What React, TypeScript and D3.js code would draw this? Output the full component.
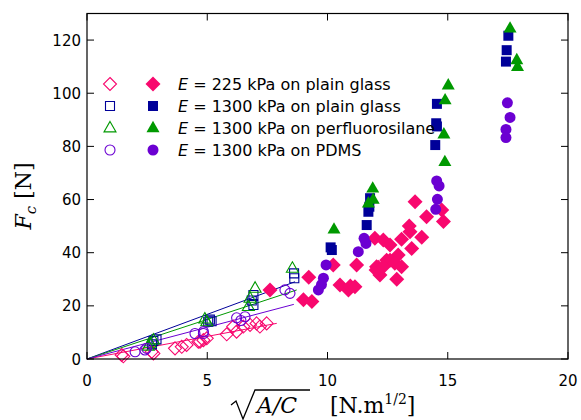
import React from "react";
import * as d3 from "d3";

// ---- data ----
const xTicks = [0, 5, 10, 15, 20];
const yTicks = [0, 20, 40, 60, 80, 100, 120];

const pinkOpen: [number, number][] = [
  [1.44, 1.5], [1.51, 1.0], [2.69, 2.7], [2.76, 2.1], [3.66, 4.0], [3.94, 4.6], [4.14, 5.3],
  [4.63, 6.5], [4.84, 7.1], [4.98, 7.8], [4.7, 6.5], [5.81, 9.3], [6.08, 12.2], [6.22, 10.3],
  [6.5, 12.2], [6.78, 12.8], [7.05, 13.4], [7.19, 12.2], [7.47, 13.4],
];
const pinkFilled: [number, number][] = [
  [7.61, 26], [9.0, 22.3], [9.35, 21.6], [9.22, 30.8], [10.24, 35.4], [10.52, 27.8], [10.87, 26],
  [10.95, 27.5], [11.14, 27.2], [11.21, 35.4], [11.97, 45.4], [12.32, 44.8], [12.04, 34.7],
  [12.18, 31.6], [12.02, 33.5], [12.11, 34.5], [12.46, 37.2], [12.6, 42.9], [13.08, 45.1],
  [13.92, 45.8], [13.5, 41.6], [12.94, 39.1], [12.6, 37.2], [12.8, 36], [12.32, 34.7],
  [13.08, 34.7], [12.88, 30], [13.4, 50], [13.43, 47.9], [13.64, 59.2], [14.12, 53.5],
  [14.75, 56.1], [14.82, 51.7],
];
const blueOpen: [number, number][] = [
  [2.76, 6.8], [2.89, 7.4], [2.7, 5.5], [5.04, 14], [5.18, 14.2], [5.11, 14.8], [6.92, 24.1],
  [6.92, 20.3], [6.85, 22], [8.61, 32.2], [8.62, 30.4],
];
const blueFilled: [number, number][] = [
  [10.13, 42], [10.18, 41], [11.63, 50.4], [11.7, 55.4], [11.74, 57.3], [11.77, 60.5],
  [14.55, 96], [14.52, 88.7], [14.55, 87.5], [14.48, 80.5], [17.52, 121.6], [17.45, 116.2],
  [17.42, 111.9],
];
const greenOpen: [number, number][] = [
  [2.62, 5.9], [2.76, 7.1], [2.55, 4.8], [4.98, 14], [4.9, 15], [6.99, 26.6], [6.78, 22.8],
  [6.71, 19.7], [8.54, 34.1],
];
const greenFilled: [number, number][] = [
  [10.27, 48.8], [11.88, 64.2], [11.9, 60], [11.7, 58.6], [14.88, 74.2], [14.84, 84.6],
  [14.89, 97.4], [15.02, 103], [17.59, 124.4], [17.87, 112.5], [17.9, 110],
];
const purpleOpen: [number, number][] = [
  [2.0, 2.7], [2.41, 3.4], [2.48, 4], [4.49, 9.6], [4.84, 10.3], [4.84, 9.6], [6.22, 15.5],
  [6.57, 15.9], [6.4, 14.5], [8.23, 26], [8.44, 24.7],
];
const purpleFilled: [number, number][] = [
  [9.62, 26], [9.75, 28], [9.83, 30.4], [9.94, 35.4], [11.28, 40.4], [11.52, 45.4], [11.6, 43.5],
  [14.5, 56.3], [14.57, 60.1], [14.54, 67], [14.64, 65.1], [17.48, 96.4], [17.59, 90.9],
  [17.42, 86.4], [17.42, 83.3],
];

// linear fits through the origin: slope and end x
const fitSlopes = [1.7, 3.36, 2.98, 2.39];
const fitEnds = [7.89, 8.65, 8.72, 8.6];

const legendLabels = [
  "225 kPa on plain glass",
  "1300 kPa on plain glass",
  "1300 kPa on perfluorosilane",
  "1300 kPa on PDMS",
];

const COLORS = ["#f8086e", "#000099", "#009900", "#6b00d2"];
const SHAPES = ["diamond", "square", "triangle", "circle"];

function markerPath(shape: string, x: number, y: number, filled: boolean): string {
  const p = d3.path();
  if (shape === "diamond") {
    const r = filled ? 7.5 : 6.5;
    p.moveTo(x, y - r); p.lineTo(x + r, y); p.lineTo(x, y + r); p.lineTo(x - r, y); p.closePath();
  } else if (shape === "square") {
    const h = filled ? 5 : 4.5;
    p.rect(x - h, y - h, 2 * h, 2 * h);
  } else if (shape === "triangle") {
    const s = filled ? 6.5 : 6;
    p.moveTo(x, y - s * 1.1); p.lineTo(x + s, y + s * 0.65); p.lineTo(x - s, y + s * 0.65); p.closePath();
  } else {
    const r = filled ? 5.5 : 5;
    p.moveTo(x + r, y); p.arc(x, y, r, 0, Math.PI * 2);
  }
  return p.toString();
}

export default function App() {
  const W = 581, H = 420;
  const left = 87, right = 568, top = 13.5, bottom = 359;
  const x = d3.scaleLinear().domain([0, 20]).range([left, right]);
  const y = d3.scaleLinear().domain([0, 130]).range([bottom, top]);

  const openSets = [pinkOpen, blueOpen, greenOpen, purpleOpen];
  const filledSets = [pinkFilled, blueFilled, greenFilled, purpleFilled];
  const font = "'DejaVu Sans', Verdana, sans-serif";
  const serif = "'DejaVu Serif', 'Liberation Serif', serif";

  return (
    <svg width={W} height={H} style={{ position: "absolute", left: 0, top: 0, background: "#fff" }}>
      <rect x={0} y={0} width={W} height={H} fill="#fff" />
      {/* fit lines */}
      {fitSlopes.map((s, i) => {
        const line = d3.line<number>().x((v) => x(v)).y((v) => y(v * s));
        return <path key={"f" + i} d={line([0, fitEnds[i]]) || ""} stroke={COLORS[i]} strokeWidth={1} fill="none" />;
      })}
      {/* open markers */}
      {openSets.map((set, i) =>
        set.map((d, j) => (
          <path key={`o${i}-${j}`} d={markerPath(SHAPES[i], x(d[0]), y(d[1]), false)} fill="none" stroke={COLORS[i]} strokeWidth={1.1} />
        ))
      )}
      {/* filled markers */}
      {filledSets.map((set, i) =>
        set.map((d, j) => (
          <path key={`c${i}-${j}`} d={markerPath(SHAPES[i], x(d[0]), y(d[1]), true)} fill={COLORS[i]} stroke="none" />
        ))
      )}
      {/* frame */}
      <rect x={left} y={top} width={right - left} height={bottom - top} fill="none" stroke="#000" strokeWidth={1.2} />
      {/* x ticks */}
      {xTicks.map((t) => (
        <g key={"xt" + t}>
          <line x1={x(t)} x2={x(t)} y1={bottom} y2={bottom - 7} stroke="#000" strokeWidth={1} />
          <line x1={x(t)} x2={x(t)} y1={top} y2={top + 7} stroke="#000" strokeWidth={1} />
          <text x={x(t)} y={bottom + 27} textAnchor="middle" fontFamily={font} fontSize={15} fill="#000">{t}</text>
        </g>
      ))}
      {/* y ticks */}
      {yTicks.map((t) => (
        <g key={"yt" + t}>
          <line x1={left} x2={left + 7} y1={y(t)} y2={y(t)} stroke="#000" strokeWidth={1} />
          <line x1={right} x2={right - 7} y1={y(t)} y2={y(t)} stroke="#000" strokeWidth={1} />
          <text x={left - 6} y={y(t) + 5.5} textAnchor="end" fontFamily={font} fontSize={15} fill="#000">{t}</text>
        </g>
      ))}
      {/* legend */}
      {legendLabels.map((lab, i) => {
        const ly = 84 + i * 22;
        return (
          <g key={"lg" + i}>
            <path d={markerPath(SHAPES[i], 110, ly, false)} fill="none" stroke={COLORS[i]} strokeWidth={1.1} />
            <path d={markerPath(SHAPES[i], 153, ly, true)} fill={COLORS[i]} />
            <text x={178} y={ly + 5.5} fontFamily={font} fontSize={16} fill="#000">
              <tspan fontStyle="italic">E</tspan>
              <tspan> = {lab}</tspan>
            </text>
          </g>
        );
      })}
      {/* y label */}
      <text transform="translate(31,196) rotate(-90)" textAnchor="middle" fontFamily={serif} fontSize={22} fill="#000">
        <tspan fontStyle="italic">F</tspan>
        <tspan fontStyle="italic" fontSize={15} dy={5}>c</tspan>
        <tspan dy={-5}> [N]</tspan>
      </text>
      {/* x label */}
      <path d="M231,405 L236,401 L243,419 L255,390 L310,390" fill="none" stroke="#000" strokeWidth={1.3} />
      <text x={257} y={413} fontFamily={serif} fontSize={22} fontStyle="italic" fill="#000">A/C</text>
      <text x={330} y={413} fontFamily={serif} fontSize={22} fill="#000">
        [N.m<tspan fontSize={14} dy={-9}>1/2</tspan><tspan dy={9}>]</tspan>
      </text>
    </svg>
  );
}
